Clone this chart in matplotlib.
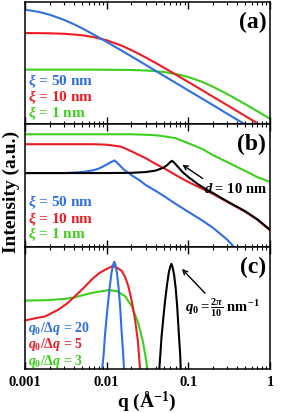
import numpy as np
import matplotlib
matplotlib.use('Agg')
import matplotlib.pyplot as plt
from matplotlib.ticker import LogLocator, NullFormatter, NullLocator, FixedFormatter, FixedLocator

plt.rcParams['font.family'] = ['Liberation Serif', 'DejaVu Serif']
plt.rcParams['font.weight'] = 'bold'
plt.rcParams['mathtext.fontset'] = 'custom'
plt.rcParams['mathtext.rm'] = 'Liberation Serif:bold'
plt.rcParams['mathtext.it'] = 'Liberation Serif:italic:bold'
plt.rcParams['mathtext.bf'] = 'Liberation Serif:bold'

BLUE = '#2f6fe0'
RED = '#ee1c25'
GREEN = '#3ccf1e'

# ---- (a) log intensity, Debye-Bueche like curves
q_a = [0.001, 0.0015, 0.002, 0.003, 0.004, 0.005, 0.007, 0.01, 0.015, 0.02, 0.03,
       0.04, 0.05, 0.07, 0.1, 0.15, 0.2, 0.3, 0.5, 0.7, 1.0]
blue_a = [7.90, 7.71, 7.49, 7.07, 6.70, 6.38, 5.85, 5.27, 4.58, 4.09, 3.39,
          2.89, 2.50, 1.92, 1.30, 0.60, 0.10, -0.61, -1.49, -2.08, -2.70]
red_a = [5.99, 5.98, 5.97, 5.93, 5.87, 5.81, 5.65, 5.40, 4.98, 4.60, 4.00,
         3.54, 3.17, 2.60, 1.99, 1.29, 0.79, 0.09, -0.80, -1.38, -2.00]
green_a = [3.00, 3.00, 3.00, 3.00, 3.00, 3.00, 3.00, 2.99, 2.98, 2.97, 2.93,
           2.87, 2.81, 2.65, 2.40, 1.98, 1.60, 1.00, 0.17, -0.40, -1.01]

# ---- (b) intensity (a.u.)
q_b = q_a
green_b = [113, 113, 113, 113, 113, 113, 113, 113, 113, 113, 112.5,
           112, 111, 109, 104, 98, 92, 85, 76, 70, 65]
red_b = [103, 103, 103, 103, 103, 103, 103, 102.5, 100.5, 96, 89,
         83, 79, 72, 65, 58, 53, 45, 35, 27, 16.5]
q_blue_b = [0.001, 0.002, 0.003, 0.004, 0.005, 0.006, 0.007, 0.008, 0.009, 0.01, 0.011,
            0.0125, 0.014, 0.016, 0.02, 0.025, 0.03, 0.04, 0.05, 0.07, 0.1, 0.15,
            0.2, 0.3, 0.36, 0.5]
blue_b = [74, 74, 74, 74.5, 75, 76, 77, 78.5, 80.5, 82.5, 84.5,
          86.7, 83, 78, 72, 67, 62, 56, 51, 43, 35, 26,
          19, 7, 0, -15]
q_black_b = [0.001, 0.002, 0.005, 0.01, 0.02, 0.03, 0.04, 0.05, 0.055, 0.06, 0.063,
             0.067, 0.075, 0.085, 0.1, 0.13, 0.17, 0.2, 0.3, 0.5, 0.7, 1.0]
black_b = [74, 74, 74, 74, 74.2, 75, 76.5, 79.5, 82, 85, 86.3,
           84.5, 80, 75, 70, 63, 57, 54, 45.5, 35.5, 27.5, 17]

# ---- (c) peaks
q_blue_c = [0.0088, 0.0092, 0.0095, 0.0100, 0.0105, 0.0110, 0.0115, 0.0120,
            0.0124, 0.0128, 0.0134, 0.0140, 0.0146, 0.0153, 0.0159, 0.0163]
blue_c = [0, 15, 32, 52, 69, 84, 96, 103, 106, 103, 94, 80, 62, 35, 16, 0]
q_black_c = [0.0441, 0.0455, 0.0470, 0.0496, 0.0522, 0.0550, 0.0578, 0.0600,
             0.0620, 0.0640, 0.0670, 0.0700, 0.0730, 0.0765, 0.0795, 0.0806]
black_c = [0, 15, 32, 52, 69, 84, 96, 101, 104, 101, 93, 80, 62, 35, 14, 0]
q_red_c = [0.001, 0.0013, 0.00176, 0.00256, 0.0033, 0.0041, 0.0052, 0.0066, 0.008,
           0.0095, 0.0116, 0.0124, 0.0135, 0.0153, 0.0168, 0.0184, 0.0198, 0.0212,
           0.0226, 0.024, 0.0248, 0.0256]
red_c = [48, 50, 52, 58.7, 65, 72, 80, 88.7, 94.5,
         98, 101.5, 101.3, 100, 97, 91, 82, 71, 59,
         45, 29, 15, 0]
q_green_c = [0.001, 0.00176, 0.0031, 0.0041, 0.0066, 0.0105, 0.0133, 0.0168,
             0.0203, 0.0244, 0.0281, 0.0316]
green_c = [67.7, 68, 69.3, 71, 75.3, 78, 77, 72, 62, 45.3, 25.3, 0]

fig, axes = plt.subplots(3, 1, figsize=(2.82, 4.14), dpi=100, sharex=True)
fig.subplots_adjust(left=0.0887, right=0.9574, top=0.9928, bottom=0.1063, hspace=0)
ax1, ax2, ax3 = axes

ax1.plot(q_a, green_a, color=GREEN, lw=1.5)
ax1.plot(q_a, red_a, color=RED, lw=1.5)
ax1.plot(q_a, blue_a, color=BLUE, lw=1.5)
ax1.set_ylim(-1.47, 8.53)

ax2.plot(q_b, green_b, color=GREEN, lw=1.5)
ax2.plot(q_b, red_b, color=RED, lw=1.5)
ax2.plot(q_blue_b, blue_b, color=BLUE, lw=1.5)
ax2.plot(q_black_b, black_b, color='k', lw=1.5)
ax2.set_ylim(0, 123)

ax3.plot(q_green_c, green_c, color=GREEN, lw=1.5)
ax3.plot(q_red_c, red_c, color=RED, lw=1.5)
ax3.plot(q_blue_c, blue_c, color=BLUE, lw=1.5)
ax3.plot(q_black_c, black_c, color='k', lw=1.5)
ax3.set_ylim(0, 121)

for ax in axes:
    ax.set_xscale('log')
    ax.set_xlim(0.001, 1)
    ax.yaxis.set_major_locator(NullLocator())
    ax.yaxis.set_minor_locator(NullLocator())
    ax.xaxis.set_minor_locator(LogLocator(base=10, subs=np.arange(2, 10)))
    ax.xaxis.set_minor_formatter(NullFormatter())
    ax.tick_params(axis='x', which='major', direction='in', top=True, length=5, width=1)
    ax.tick_params(axis='x', which='minor', direction='in', top=True, length=2.5, width=0.8)
    for s in ax.spines.values():
        s.set_linewidth(1.1)

ax3.xaxis.set_major_locator(FixedLocator([0.001, 0.01, 0.1, 1]))
ax3.xaxis.set_major_formatter(FixedFormatter(['0.001', '0.01', '0.1', '1']))
ax3.tick_params(axis='x', which='major', labelsize=10.5, pad=4)
for lab in ax3.get_xticklabels():
    lab.set_fontweight('bold')

# panel labels
for ax, lab in zip(axes, ['(a)', '(b)', '(c)']):
    ax.text(0.985, 0.84, lab, transform=ax.transAxes, ha='right', va='center',
            fontsize=17, fontweight='bold')

# legends as coloured text
fs = 11
for ax, ys in [(ax1, [0.358, 0.228, 0.098]), (ax2, [0.374, 0.236, 0.106])]:
    ax.text(0.012, ys[0], r'$\xi$ = 50 nm', color=BLUE, transform=ax.transAxes,
            va='center', fontsize=fs, fontweight='bold')
    ax.text(0.012, ys[1], r'$\xi$ = 10 nm', color=RED, transform=ax.transAxes,
            va='center', fontsize=fs, fontweight='bold')
    ax.text(0.012, ys[2], r'$\xi$ = 1 nm', color=GREEN, transform=ax.transAxes,
            va='center', fontsize=fs, fontweight='bold')

fs_c = 10
ax3.text(0.012, 0.34, r'$q_0/\Delta q$ = 20', color=BLUE, transform=ax3.transAxes,
         va='center', fontsize=fs_c, fontweight='bold')
ax3.text(0.012, 0.205, r'$q_0/\Delta q$ = 5', color=RED, transform=ax3.transAxes,
         va='center', fontsize=fs_c, fontweight='bold')
ax3.text(0.012, 0.07, r'$q_0/\Delta q$ = 3', color=GREEN, transform=ax3.transAxes,
         va='center', fontsize=fs_c, fontweight='bold')

# annotations
ax2.annotate('', xy=(0.079, 84), xytext=(0.16, 67),
             arrowprops=dict(arrowstyle='->', lw=1, color='k', mutation_scale=8))
ax2.text(0.73, 0.48, r'$d$ = 10 nm', transform=ax2.transAxes, va='center',
         fontsize=10.5, fontweight='bold')
ax3.annotate('', xy=(0.079, 101), xytext=(0.169, 73),
             arrowprops=dict(arrowstyle='->', lw=1, color='k', mutation_scale=8))
ax3.text(0.655, 0.51, r'$q_0 = \frac{2\pi}{10}$ nm$^{-1}$', transform=ax3.transAxes,
         va='center', fontsize=10.5, fontweight='bold')

fig.text(0.04, 0.536, 'Intensity (a.u.)', rotation=90, ha='center', va='center',
         fontsize=14, fontweight='bold')
fig.text(0.52, 0.032, r'q ($\mathrm{\AA}^{-1}$)', ha='center', va='center',
         fontsize=14, fontweight='bold')

fig.savefig('out.png', dpi=100)
